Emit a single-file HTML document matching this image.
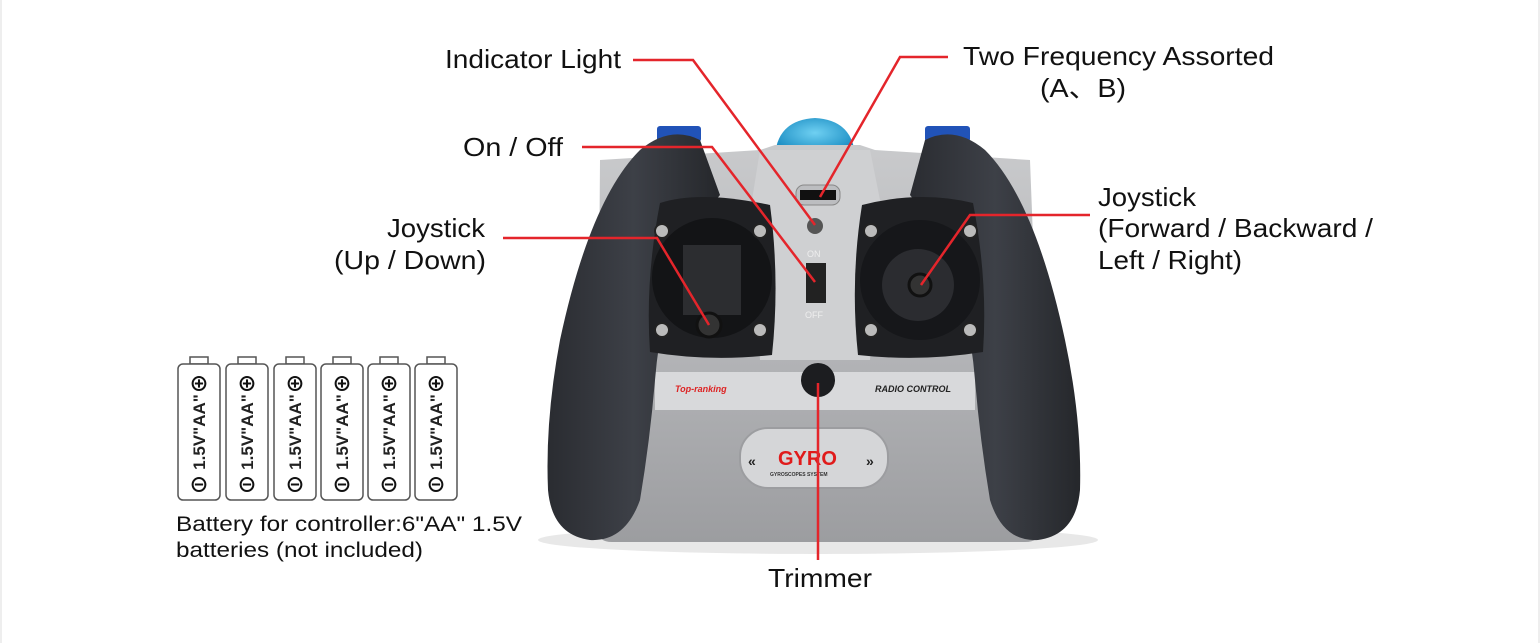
<!DOCTYPE html>
<html><head><meta charset="utf-8"><style>
html,body{margin:0;padding:0;background:#fff}
svg{display:block}
text{font-family:"Liberation Sans","Noto Sans CJK SC",sans-serif;fill:#111}
</style></head><body>
<svg width="1540" height="643" viewBox="0 0 1540 643" xmlns="http://www.w3.org/2000/svg">
<defs>
<linearGradient id="silver" x1="0" y1="0" x2="0" y2="1">
<stop offset="0" stop-color="#c9cacc"/><stop offset="0.5" stop-color="#b4b5b8"/><stop offset="1" stop-color="#9c9da0"/></linearGradient>
<linearGradient id="grip" x1="0" y1="0" x2="1" y2="0">
<stop offset="0" stop-color="#2a2c31"/><stop offset="0.5" stop-color="#3d4047"/><stop offset="1" stop-color="#25272b"/></linearGradient>
<radialGradient id="blue" cx="0.5" cy="0.4" r="0.6"><stop offset="0" stop-color="#6fd0f2"/><stop offset="1" stop-color="#1689c0"/></radialGradient>
</defs>
<rect x="0" y="0" width="2" height="643" fill="#eee"/>
<rect x="1538" y="0" width="2" height="643" fill="#eee"/>
<ellipse cx="818" cy="540" rx="280" ry="14" fill="#e8e8e8"/>
<rect x="657" y="126" width="44" height="16" rx="3" fill="#2153b8"/>
<rect x="925" y="126" width="45" height="16" rx="3" fill="#2153b8"/>
<path d="M775 155 Q778 120 815 118 Q852 120 855 155 Z" fill="url(#blue)"/>
<path d="M600 160 L760 150 L775 145 L860 145 L875 150 L1030 160 L1040 420 L1040 530 Q1040 542 1025 542 L612 542 Q598 542 598 530 L598 420 Z" fill="url(#silver)"/>
<path d="M760 150 L870 150 L880 200 L870 360 L760 360 L752 200 Z" fill="#cfd0d2"/>
<rect x="655" y="372" width="320" height="38" fill="#d8d9db"/>
<text x="675" y="392" font-size="9" font-style="italic" font-weight="bold" style="fill:#d22">Top-ranking</text>
<text x="875" y="392" font-size="9" font-style="italic" font-weight="bold" style="fill:#222">RADIO CONTROL</text>
<rect x="740" y="428" width="148" height="60" rx="28" fill="#d5d6d8" stroke="#9c9da0" stroke-width="2"/>
<text x="778" y="465" font-size="20" font-weight="bold" style="fill:#e01b1b">GYRO</text>
<text x="770" y="476" font-size="5" font-weight="bold" style="fill:#333">GYROSCOPES SYSTEM</text>
<text x="748" y="466" font-size="14" font-weight="bold" style="fill:#222">«</text>
<text x="866" y="466" font-size="14" font-weight="bold" style="fill:#222">»</text>
<path d="M700 140 Q670 125 640 150 Q590 200 560 340 Q545 420 548 490 Q552 535 590 540 Q625 542 640 500 Q650 440 655 380 Q665 260 720 195 Z" fill="url(#grip)"/>
<path d="M925 140 Q955 125 985 150 Q1035 200 1065 340 Q1082 420 1080 490 Q1076 535 1038 540 Q1003 542 990 500 Q980 440 975 380 Q965 260 910 195 Z" fill="url(#grip)"/>
<path d="M660 203 Q700 190 770 205 Q780 280 772 355 Q710 362 650 352 Q645 280 660 203 Z" fill="#1f2023"/>
<circle cx="712" cy="278" r="60" fill="#131416"/>
<rect x="683" y="245" width="58" height="70" fill="#2c2d30"/>
<circle cx="709" cy="325" r="12" fill="#333" stroke="#111" stroke-width="3"/>
<path d="M862 205 Q920 190 973 203 Q988 280 983 352 Q920 362 858 355 Q850 280 862 205 Z" fill="#1f2023"/>
<circle cx="920" cy="280" r="60" fill="#16171a"/>
<circle cx="918" cy="285" r="36" fill="#2b2c30"/>
<circle cx="920" cy="285" r="11" fill="#333" stroke="#111" stroke-width="3"/>
<g fill="#bbb" stroke="#222" stroke-width="2">
<circle cx="662" cy="231" r="7"/><circle cx="760" cy="231" r="7"/><circle cx="662" cy="330" r="7"/><circle cx="760" cy="330" r="7"/>
<circle cx="871" cy="231" r="7"/><circle cx="970" cy="231" r="7"/><circle cx="871" cy="330" r="7"/><circle cx="970" cy="330" r="7"/>
</g>
<rect x="796" y="185" width="44" height="20" rx="8" fill="#bcbdc0" stroke="#888"/>
<rect x="800" y="190" width="36" height="10" fill="#111"/>
<circle cx="815" cy="226" r="8" fill="#555"/>
<text x="807" y="257" font-size="9" style="fill:#eee">ON</text>
<rect x="806" y="263" width="20" height="40" fill="#222"/>
<text x="805" y="318" font-size="9" style="fill:#eee">OFF</text>
<circle cx="818" cy="380" r="17" fill="#1c1d20"/>
<g stroke="#e4252b" stroke-width="2.5" fill="none">
<polyline points="633,60 693,60 815,225"/>
<polyline points="948,57 900,57 820,197"/>
<polyline points="582,147 712,147 815,282"/>
<polyline points="503,238 657,238 709,325"/>
<polyline points="1090,215 970,215 921,285"/>
<line x1="818" y1="383" x2="818" y2="560"/>
</g>
<g font-size="26">
<text x="445" y="68" textLength="176" lengthAdjust="spacingAndGlyphs">Indicator Light</text>
<text x="963" y="65" textLength="311" lengthAdjust="spacingAndGlyphs">Two Frequency Assorted</text>
<text x="1040" y="97" textLength="86" lengthAdjust="spacingAndGlyphs">(A、B)</text>
<text x="463" y="156" textLength="100" lengthAdjust="spacingAndGlyphs">On / Off</text>
<text x="387" y="237" textLength="98" lengthAdjust="spacingAndGlyphs">Joystick</text>
<text x="334" y="269" textLength="152" lengthAdjust="spacingAndGlyphs">(Up / Down)</text>
<text x="1098" y="206" textLength="98" lengthAdjust="spacingAndGlyphs">Joystick</text>
<text x="1098" y="237" textLength="275" lengthAdjust="spacingAndGlyphs">(Forward / Backward /</text>
<text x="1098" y="269" textLength="144" lengthAdjust="spacingAndGlyphs">Left / Right)</text>
<text x="768" y="587" textLength="104" lengthAdjust="spacingAndGlyphs">Trimmer</text>
</g>
<g>
<g transform="translate(178,0)"><rect x="12" y="357" width="18" height="7" fill="#fff" stroke="#555" stroke-width="1.5"/><rect x="0" y="364" width="42" height="136" rx="5" fill="#fff" stroke="#555" stroke-width="1.5"/><text x="21" y="432" font-size="17" font-weight="bold" transform="rotate(-90 21 432)" text-anchor="middle" dy="6" style="fill:#222">1.5V"AA"</text><text x="21" y="391" font-size="20" text-anchor="middle" font-weight="bold">⊕</text><text x="21" y="492" font-size="20" text-anchor="middle" font-weight="bold">⊖</text></g>
<g transform="translate(226,0)"><rect x="12" y="357" width="18" height="7" fill="#fff" stroke="#555" stroke-width="1.5"/><rect x="0" y="364" width="42" height="136" rx="5" fill="#fff" stroke="#555" stroke-width="1.5"/><text x="21" y="432" font-size="17" font-weight="bold" transform="rotate(-90 21 432)" text-anchor="middle" dy="6" style="fill:#222">1.5V"AA"</text><text x="21" y="391" font-size="20" text-anchor="middle" font-weight="bold">⊕</text><text x="21" y="492" font-size="20" text-anchor="middle" font-weight="bold">⊖</text></g>
<g transform="translate(274,0)"><rect x="12" y="357" width="18" height="7" fill="#fff" stroke="#555" stroke-width="1.5"/><rect x="0" y="364" width="42" height="136" rx="5" fill="#fff" stroke="#555" stroke-width="1.5"/><text x="21" y="432" font-size="17" font-weight="bold" transform="rotate(-90 21 432)" text-anchor="middle" dy="6" style="fill:#222">1.5V"AA"</text><text x="21" y="391" font-size="20" text-anchor="middle" font-weight="bold">⊕</text><text x="21" y="492" font-size="20" text-anchor="middle" font-weight="bold">⊖</text></g>
<g transform="translate(321,0)"><rect x="12" y="357" width="18" height="7" fill="#fff" stroke="#555" stroke-width="1.5"/><rect x="0" y="364" width="42" height="136" rx="5" fill="#fff" stroke="#555" stroke-width="1.5"/><text x="21" y="432" font-size="17" font-weight="bold" transform="rotate(-90 21 432)" text-anchor="middle" dy="6" style="fill:#222">1.5V"AA"</text><text x="21" y="391" font-size="20" text-anchor="middle" font-weight="bold">⊕</text><text x="21" y="492" font-size="20" text-anchor="middle" font-weight="bold">⊖</text></g>
<g transform="translate(368,0)"><rect x="12" y="357" width="18" height="7" fill="#fff" stroke="#555" stroke-width="1.5"/><rect x="0" y="364" width="42" height="136" rx="5" fill="#fff" stroke="#555" stroke-width="1.5"/><text x="21" y="432" font-size="17" font-weight="bold" transform="rotate(-90 21 432)" text-anchor="middle" dy="6" style="fill:#222">1.5V"AA"</text><text x="21" y="391" font-size="20" text-anchor="middle" font-weight="bold">⊕</text><text x="21" y="492" font-size="20" text-anchor="middle" font-weight="bold">⊖</text></g>
<g transform="translate(415,0)"><rect x="12" y="357" width="18" height="7" fill="#fff" stroke="#555" stroke-width="1.5"/><rect x="0" y="364" width="42" height="136" rx="5" fill="#fff" stroke="#555" stroke-width="1.5"/><text x="21" y="432" font-size="17" font-weight="bold" transform="rotate(-90 21 432)" text-anchor="middle" dy="6" style="fill:#222">1.5V"AA"</text><text x="21" y="391" font-size="20" text-anchor="middle" font-weight="bold">⊕</text><text x="21" y="492" font-size="20" text-anchor="middle" font-weight="bold">⊖</text></g>
</g>
<text x="176" y="531" font-size="21" textLength="346" lengthAdjust="spacingAndGlyphs">Battery for controller:6"AA" 1.5V</text>
<text x="176" y="557" font-size="21" textLength="247" lengthAdjust="spacingAndGlyphs">batteries (not included)</text>
</svg>
</body></html>
